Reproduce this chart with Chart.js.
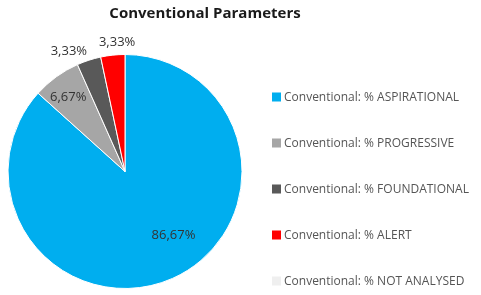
<!DOCTYPE html>
<html><head><meta charset="utf-8">
<script src="https://cdn.jsdelivr.net/npm/chart.js@4/dist/chart.umd.min.js"></script>
<style>html,body{margin:0;padding:0;background:#fff;overflow:hidden}</style>
</head><body>
<canvas id="c" width="481" height="295"></canvas>
<script>
const categories = [
  'Conventional: % ASPIRATIONAL',
  'Conventional: % PROGRESSIVE',
  'Conventional: % FOUNDATIONAL',
  'Conventional: % ALERT',
  'Conventional: % NOT ANALYSED'
];
const values = [86.67, 6.67, 3.33, 3.33, 0];
const colors = ['#00AEEF', '#A6A6A6', '#595959', '#FF0000', '#EFEFEF'];
const titleText = 'Conventional Parameters';

const FONT = '"Open Sans"';

// label placement (relative to the slice's mid angle / radius)
const labelPlacement = [
  {r: 0.684, da: -13.3},
  {r: 0.80, da: -1.4},
  {r: 1.136, da: -7},
  {r: 1.104, da: 2.5},
  {r: 0.8, da: 0}
];

const fmt = v => v.toFixed(2).replace('.', ',') + '%';

const sliceLabels = {
  id: 'sliceLabels',
  afterDatasetsDraw(chart) {
    const ctx = chart.ctx;
    const meta = chart.getDatasetMeta(0);
    ctx.save();
    ctx.font = '13px ' + FONT;
    ctx.fillStyle = '#333333';
    ctx.textAlign = 'center';
    ctx.textBaseline = 'middle';
    meta.data.forEach((arc, i) => {
      const v = chart.data.datasets[0].data[i];
      if (!v) return;
      const p = arc.getProps(['x', 'y', 'startAngle', 'endAngle', 'outerRadius'], true);
      const pl = labelPlacement[i];
      const a = (p.startAngle + p.endAngle) / 2 + pl.da * Math.PI / 180;
      const d = p.outerRadius * pl.r;
      ctx.fillText(fmt(v), p.x + Math.cos(a) * d, p.y + Math.sin(a) * d);
    });
    ctx.restore();
  }
};

const sideLegend = {
  id: 'sideLegend',
  afterDraw(chart) {
    const ctx = chart.ctx;
    const ds = chart.data.datasets[0];
    ctx.save();
    // title
    ctx.font = 'bold 15px ' + FONT;
    ctx.fillStyle = '#1a1a1a';
    ctx.textAlign = 'center';
    ctx.textBaseline = 'middle';
    ctx.fillText(titleText, 205, 14);
    // legend
    ctx.font = '12px ' + FONT;
    ctx.textBaseline = 'middle';
    ctx.textAlign = 'left';
    chart.data.labels.forEach((lab, i) => {
      const y = 97 + i * 46;
      ctx.fillStyle = ds.backgroundColor[i];
      ctx.fillRect(272, y - 4.5, 9, 9);
      ctx.fillStyle = '#555555';
      ctx.fillText(lab, 284, y + 0.5);
    });
    ctx.restore();
  }
};

new Chart(document.getElementById('c'), {
  type: 'pie',
  data: {
    labels: categories,
    datasets: [{
      data: values,
      backgroundColor: colors,
      borderColor: '#ffffff',
      borderWidth: 1,
      radius: 117
    }]
  },
  options: {
    responsive: false,
    animation: false,
    layout: {padding: {left: 0, right: 231, top: 50, bottom: 2}},
    plugins: {
      legend: {display: false},
      tooltip: {enabled: false},
      title: {display: false}
    }
  },
  plugins: [sliceLabels, sideLegend]
});
</script>
</body></html>
